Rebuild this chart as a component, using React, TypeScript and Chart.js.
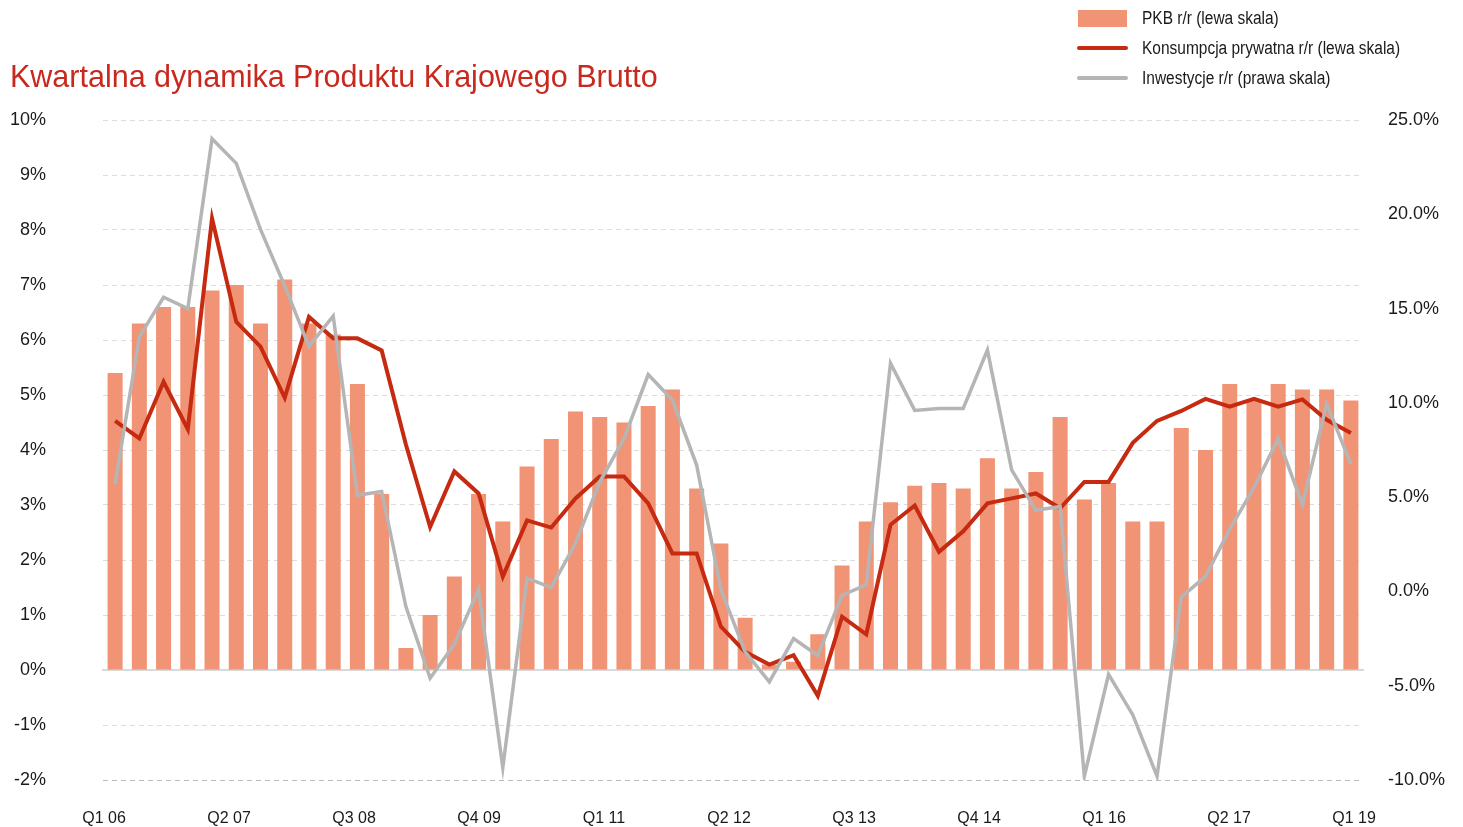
import React, { useEffect, useRef } from 'react';
import { Chart, registerables } from 'chart.js';

Chart.register(...registerables);

const quarters = [
  'Q1 06', 'Q2 06', 'Q3 06', 'Q4 06',
  'Q1 07', 'Q2 07', 'Q3 07', 'Q4 07',
  'Q1 08', 'Q2 08', 'Q3 08', 'Q4 08',
  'Q1 09', 'Q2 09', 'Q3 09', 'Q4 09',
  'Q1 10', 'Q2 10', 'Q3 10', 'Q4 10',
  'Q1 11', 'Q2 11', 'Q3 11', 'Q4 11',
  'Q1 12', 'Q2 12', 'Q3 12', 'Q4 12',
  'Q1 13', 'Q2 13', 'Q3 13', 'Q4 13',
  'Q1 14', 'Q2 14', 'Q3 14', 'Q4 14',
  'Q1 15', 'Q2 15', 'Q3 15', 'Q4 15',
  'Q1 16', 'Q2 16', 'Q3 16', 'Q4 16',
  'Q1 17', 'Q2 17', 'Q3 17', 'Q4 17',
  'Q1 18', 'Q2 18', 'Q3 18', 'Q4 18',
];

// PKB r/r (left scale, %)
const pkb = [
  5.4, 6.3, 6.6, 6.6, 6.9, 7.0, 6.3, 7.1, 6.3, 6.1, 5.2, 3.2,
  0.4, 1.0, 1.7, 3.2, 2.7, 3.7, 4.2, 4.7, 4.6, 4.5, 4.8, 5.1,
  3.3, 2.3, 0.95, 0.1, 0.15, 0.65, 1.9, 2.7, 3.05, 3.35, 3.4, 3.3,
  3.85, 3.3, 3.6, 4.6, 3.1, 3.4, 2.7, 2.7, 4.4, 4.0, 5.2, 4.9,
  5.2, 5.1, 5.1, 4.9,
];

// Konsumpcja prywatna r/r (left scale, %)
const konsumpcja = [
  4.53, 4.21, 5.24, 4.38, 8.21, 6.33, 5.88, 4.95, 6.42, 6.03, 6.03, 5.81,
  4.1, 2.6, 3.61, 3.21, 1.7, 2.72, 2.59, 3.12, 3.52, 3.52, 3.03, 2.12,
  2.12, 0.79, 0.33, 0.1, 0.27, -0.47, 0.97, 0.65, 2.64, 2.99, 2.15, 2.52,
  3.03, 3.12, 3.21, 2.94, 3.42, 3.42, 4.13, 4.53, 4.71, 4.93, 4.79, 4.93,
  4.79, 4.92, 4.55, 4.31,
];

// Inwestycje r/r (right scale, %)
const inwestycje = [
  5.7, 13.5, 15.6, 15.0, 24.0, 22.7, 19.2, 16.2, 13.0, 14.6, 5.1, 5.3,
  -0.8, -4.6, -2.8, 0.1, -9.35, 0.7, 0.2, 2.55, 5.8, 8.1, 11.5, 10.15,
  6.7, 0.1, -3.2, -4.8, -2.5, -3.4, -0.2, 0.35, 12.1, 9.6, 9.7, 9.7,
  12.8, 6.45, 4.3, 4.5, -9.8, -4.4, -6.55, -9.8, -0.3, 0.8, 3.3, 5.5,
  8.1, 4.6, 9.95, 6.75,
];

const xTickLabels = [
  'Q1 06', 'Q2 07', 'Q3 08', 'Q4 09', 'Q1 11', 'Q2 12',
  'Q3 13', 'Q4 14', 'Q1 16', 'Q2 17', 'Q1 19',
];

const TITLE = 'Kwartalna dynamika Produktu Krajowego Brutto';
const LEGEND_PKB = 'PKB r/r (lewa skala)';
const LEGEND_KONS = 'Konsumpcja prywatna r/r (lewa skala)';
const LEGEND_INW = 'Inwestycje r/r (prawa skala)';

const COLOR_BAR = '#F19476';
const COLOR_RED = '#C62A10';
const COLOR_GRAY = '#B5B5B5';
const COLOR_TITLE = '#C8281E';
const FONT = "'Liberation Sans', Arial, sans-serif";
const TEXT = '#1a1a1a';

export default function App() {
  const canvasRef = useRef<HTMLCanvasElement | null>(null);

  useEffect(() => {
    document.documentElement.style.overflow = 'hidden';
    const canvas = canvasRef.current;
    if (!canvas) return;
    const chart = new Chart(canvas, {
      type: 'bar',
      data: {
        labels: quarters,
        datasets: [
          {
            type: 'line',
            label: LEGEND_INW,
            data: inwestycje,
            xAxisID: 'x',
            yAxisID: 'y1',
            borderColor: COLOR_GRAY,
            backgroundColor: COLOR_GRAY,
            borderWidth: 3.5,
            pointRadius: 0,
            tension: 0,
            fill: false,
            order: 0,
          } as any,
          {
            type: 'line',
            label: LEGEND_KONS,
            data: konsumpcja,
            xAxisID: 'x',
            yAxisID: 'y',
            borderColor: COLOR_RED,
            backgroundColor: COLOR_RED,
            borderWidth: 4,
            pointRadius: 0,
            tension: 0,
            fill: false,
            order: 1,
          } as any,
          {
            type: 'bar',
            label: LEGEND_PKB,
            data: pkb,
            xAxisID: 'x',
            yAxisID: 'y',
            backgroundColor: COLOR_BAR,
            borderWidth: 0,
            barPercentage: 0.62,
            categoryPercentage: 1,
            order: 2,
          } as any,
        ],
      },
      options: {
        responsive: false,
        animation: false,
        layout: { padding: { top: 112, left: 0, right: 0, bottom: 0 } },
        plugins: {
          legend: { display: false },
          title: { display: false },
          tooltip: { enabled: false },
        },
        scales: {
          x: {
            type: 'category',
            position: { y: 0 } as any,
            offset: true,
            grid: { display: false, drawTicks: false },
            ticks: { display: false, padding: 0 },
            border: { display: true, color: '#D9D9D9', width: 2 },
            afterFit: (s: any) => {
              s.height = 0;
            },
          } as any,
          x2: {
            type: 'linear',
            position: 'bottom',
            offset: false,
            min: -0.008,
            max: 10.072,
            grid: { display: false, drawTicks: false, offset: false },
            border: { display: false },
            afterBuildTicks: (s: any) => {
              s.ticks = xTickLabels.map((_, i) => ({ value: i }));
            },
            afterFit: (s: any) => {
              s.height = 47;
            },
            ticks: {
              autoSkip: false,
              maxRotation: 0,
              minRotation: 0,
              padding: 29,
              color: TEXT,
              font: { family: FONT, size: 16 },
              callback: (_v: any, i: number) => xTickLabels[i],
            },
          } as any,
          y: {
            type: 'linear',
            position: 'left',
            min: -2,
            max: 10,
            ticks: {
              stepSize: 1,
              padding: 0,
              color: TEXT,
              font: { family: FONT, size: 18 },
              callback: (v: any) => `${v}%`,
            },
            grid: {
              drawTicks: true,
              tickLength: 57,
              tickColor: 'rgba(0,0,0,0)',
              lineWidth: 1,
              color: (ctx: any) => (ctx.tick && ctx.tick.value === -2 ? '#BDBDBD' : '#DCDCDC'),
            },
            border: { display: false, dash: [5, 4] },
            afterFit: (s: any) => {
              s.width = 95;
            },
          } as any,
          y1: {
            type: 'linear',
            position: 'right',
            min: -10,
            max: 25,
            ticks: {
              stepSize: 5,
              padding: 0,
              color: TEXT,
              font: { family: FONT, size: 18 },
              callback: (v: any) => `${Number(v).toFixed(1)}%`,
            },
            grid: {
              display: true,
              drawOnChartArea: false,
              drawTicks: true,
              tickLength: 25,
              tickColor: 'rgba(0,0,0,0)',
            },
            border: { display: false },
            afterFit: (s: any) => {
              s.width = 92;
            },
          } as any,
        },
      },
    });
    return () => chart.destroy();
  }, []);

  const legendText: React.CSSProperties = {
    fontFamily: FONT,
    fontSize: 18,
    color: TEXT,
    whiteSpace: 'nowrap',
    display: 'inline-block',
    transform: 'scaleX(0.86)',
    transformOrigin: 'left center',
  };
  const row: React.CSSProperties = {
    height: 30,
    display: 'flex',
    alignItems: 'center',
  };
  const markerBox: React.CSSProperties = {
    width: 51,
    marginRight: 14,
    display: 'flex',
    alignItems: 'center',
  };

  return (
    <div style={{ position: 'relative', width: 1447, height: 819 }}>
      <canvas ref={canvasRef} width={1447} height={819} style={{ display: 'block' }} />
      <div
        style={{
          position: 'absolute',
          left: 2,
          top: 53,
          fontFamily: FONT,
          fontSize: 30.5,
          lineHeight: '30px',
          color: COLOR_TITLE,
          whiteSpace: 'nowrap',
        }}
      >
        {TITLE}
      </div>
      <div style={{ position: 'absolute', left: 1069, top: -5 }}>
        <div style={row}>
          <div style={markerBox}>
            <div style={{ marginLeft: 1, width: 49, height: 17, background: COLOR_BAR }} />
          </div>
          <span style={legendText}>{LEGEND_PKB}</span>
        </div>
        <div style={row}>
          <div style={markerBox}>
            <div style={{ width: 51, height: 4, borderRadius: 2, background: COLOR_RED }} />
          </div>
          <span style={legendText}>{LEGEND_KONS}</span>
        </div>
        <div style={row}>
          <div style={markerBox}>
            <div style={{ width: 51, height: 4, borderRadius: 2, background: COLOR_GRAY }} />
          </div>
          <span style={legendText}>{LEGEND_INW}</span>
        </div>
      </div>
    </div>
  );
}
